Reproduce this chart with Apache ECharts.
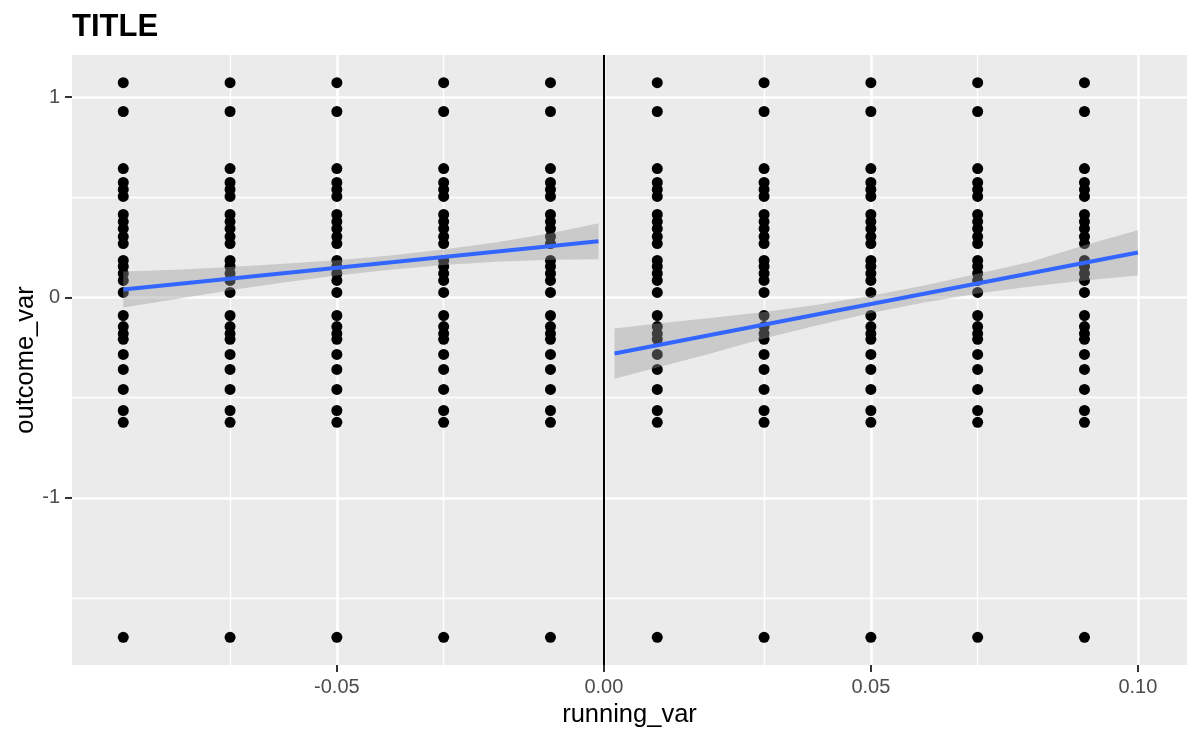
<!DOCTYPE html>
<html>
<head>
<meta charset="utf-8">
<script src="https://cdn.jsdelivr.net/npm/echarts@6/dist/echarts.min.js"></script>
<style>html,body{margin:0;padding:0;background:#fff;}#c{width:1200px;height:740px;}</style>
</head>
<body>
<div id="c"></div>
<script>
// ---- data ----
const titleText = 'TITLE';
const xName = 'running_var';
const yName = 'outcome_var';
const xLevels = [-0.09, -0.07, -0.05, -0.03, -0.01, 0.01, 0.03, 0.05, 0.07, 0.09];
const yLevels = [1.072, 0.928, 0.643, 0.574, 0.539, 0.504, 0.414, 0.379, 0.344, 0.304, 0.269,
                 0.185, 0.155, 0.120, 0.085, 0.025, -0.090, -0.145, -0.180, -0.209, -0.284,
                 -0.359, -0.459, -0.564, -0.623, -1.696];
const fitLeftX = [-0.09, -0.001];
const fitLeftY = [0.040, 0.281];
const fitRightX = [0.002, 0.100];
const fitRightY = [-0.280, 0.224];
const bandLeftX = [-0.09, -0.08, -0.07, -0.06, -0.05, -0.04, -0.03, -0.02, -0.01, -0.001];
const bandLeftUpper = [0.130, 0.138, 0.152, 0.168, 0.186, 0.210, 0.240, 0.275, 0.320, 0.371];
const bandLeftLower = [-0.050, -0.008, 0.036, 0.075, 0.110, 0.138, 0.162, 0.178, 0.188, 0.191];
const bandRightX = [0.002, 0.01, 0.02, 0.03, 0.04, 0.05, 0.06, 0.07, 0.08, 0.09, 0.100];
const bandRightUpper = [-0.155, -0.130, -0.102, -0.072, -0.036, 0.008, 0.060, 0.118, 0.178, 0.260, 0.335];
const bandRightLower = [-0.405, -0.350, -0.280, -0.205, -0.138, -0.078, -0.025, 0.020, 0.055, 0.085, 0.110];
const cutoff = 0;
const xTicks = [-0.05, 0.00, 0.05, 0.10];
const xMinor = [-0.075, -0.025, 0.025, 0.075];
const yTicks = [-1, 0, 1];
const yMinor = [-1.5, -0.5, 0.5];
const xRange = [-0.0996, 0.1092];
const yRange = [-1.834, 1.210];

// ---- build ----
const points = [];
xLevels.forEach(x => yLevels.forEach(y => points.push([x, y])));
const FONT = 'Liberation Sans';

function bandSeries(xs, up, lo) {
  return {
    type: 'custom', z: 4, silent: true,
    data: [[xs[0], up[0]]],
    renderItem: function (params, api) {
      const pts = [];
      for (let i = 0; i < xs.length; i++) pts.push(api.coord([xs[i], up[i]]));
      for (let i = xs.length - 1; i >= 0; i--) pts.push(api.coord([xs[i], lo[i]]));
      return { type: 'polygon', shape: { points: pts },
               style: { fill: 'rgba(153,153,153,0.4)' } };
    }
  };
}
function fitSeries(xs, ys) {
  return { type: 'line', z: 5, silent: true, symbol: 'none',
           data: xs.map((x, i) => [x, ys[i]]),
           lineStyle: { color: '#3366FF', width: 4 } };
}
const gridLineData = [];
xMinor.forEach(v => gridLineData.push({ xAxis: v, lineStyle: { width: 1.3 } }));
yMinor.forEach(v => gridLineData.push({ yAxis: v, lineStyle: { width: 1.3 } }));
xTicks.forEach(v => gridLineData.push({ xAxis: v, lineStyle: { width: 2.5 } }));
yTicks.forEach(v => gridLineData.push({ yAxis: v, lineStyle: { width: 2.5 } }));

const chart = echarts.init(document.getElementById('c'), null, { renderer: 'canvas' });
chart.setOption({
  animation: false,
  backgroundColor: '#ffffff',
  title: { text: titleText, left: 67, top: 7,
           textStyle: { fontFamily: FONT, fontSize: 31, fontWeight: 'bold', color: '#000' } },
  grid: { left: 72, right: 13, top: 55, bottom: 75, show: true, containLabel: false,
          outerBoundsMode: 'none',
          backgroundColor: '#EBEBEB', borderWidth: 0 },
  xAxis: {
    type: 'value', min: xRange[0], max: xRange[1],
    name: xName, nameLocation: 'middle', nameGap: 36,
    nameTextStyle: { fontFamily: FONT, fontSize: 25.5, color: '#000' },
    axisLine: { show: false, onZero: false },
    splitLine: { show: false },
    axisTick: { show: true, length: 7, customValues: xTicks, lineStyle: { color: '#333333', width: 2 } },
    axisLabel: { customValues: xTicks, margin: 12, fontFamily: FONT, fontSize: 20, color: '#4D4D4D',
                 formatter: v => v.toFixed(2) }
  },
  yAxis: {
    type: 'value', min: yRange[0], max: yRange[1],
    name: yName, nameLocation: 'middle', nameGap: 33, nameRotate: 90, nameMoveOverlap: false,
    nameTextStyle: { fontFamily: FONT, fontSize: 25.5, color: '#000' },
    axisLine: { show: false, onZero: false },
    splitLine: { show: false },
    axisTick: { show: true, length: 7, customValues: yTicks, lineStyle: { color: '#333333', width: 2 } },
    axisLabel: { customValues: yTicks, margin: 12, fontFamily: FONT, fontSize: 20, color: '#4D4D4D',
                 formatter: v => String(Math.round(v)) }
  },
  series: [
    { type: 'scatter', z: 1, silent: true, data: [],
      markLine: { z: 1, silent: true, symbol: 'none', label: { show: false },
                  lineStyle: { color: '#FFFFFF', type: 'solid' }, data: gridLineData } },
    { type: 'scatter', z: 3, silent: true, symbol: 'circle', symbolSize: 11,
      itemStyle: { color: '#000000', opacity: 1 }, data: points },
    bandSeries(bandLeftX, bandLeftUpper, bandLeftLower),
    bandSeries(bandRightX, bandRightUpper, bandRightLower),
    fitSeries(fitLeftX, fitLeftY),
    fitSeries(fitRightX, fitRightY),
    { type: 'scatter', z: 6, silent: true, data: [],
      markLine: { z: 6, silent: true, symbol: 'none', label: { show: false },
                  lineStyle: { color: '#000000', type: 'solid', width: 2 },
                  data: [{ xAxis: cutoff }] } }
  ]
});
</script>
</body>
</html>
